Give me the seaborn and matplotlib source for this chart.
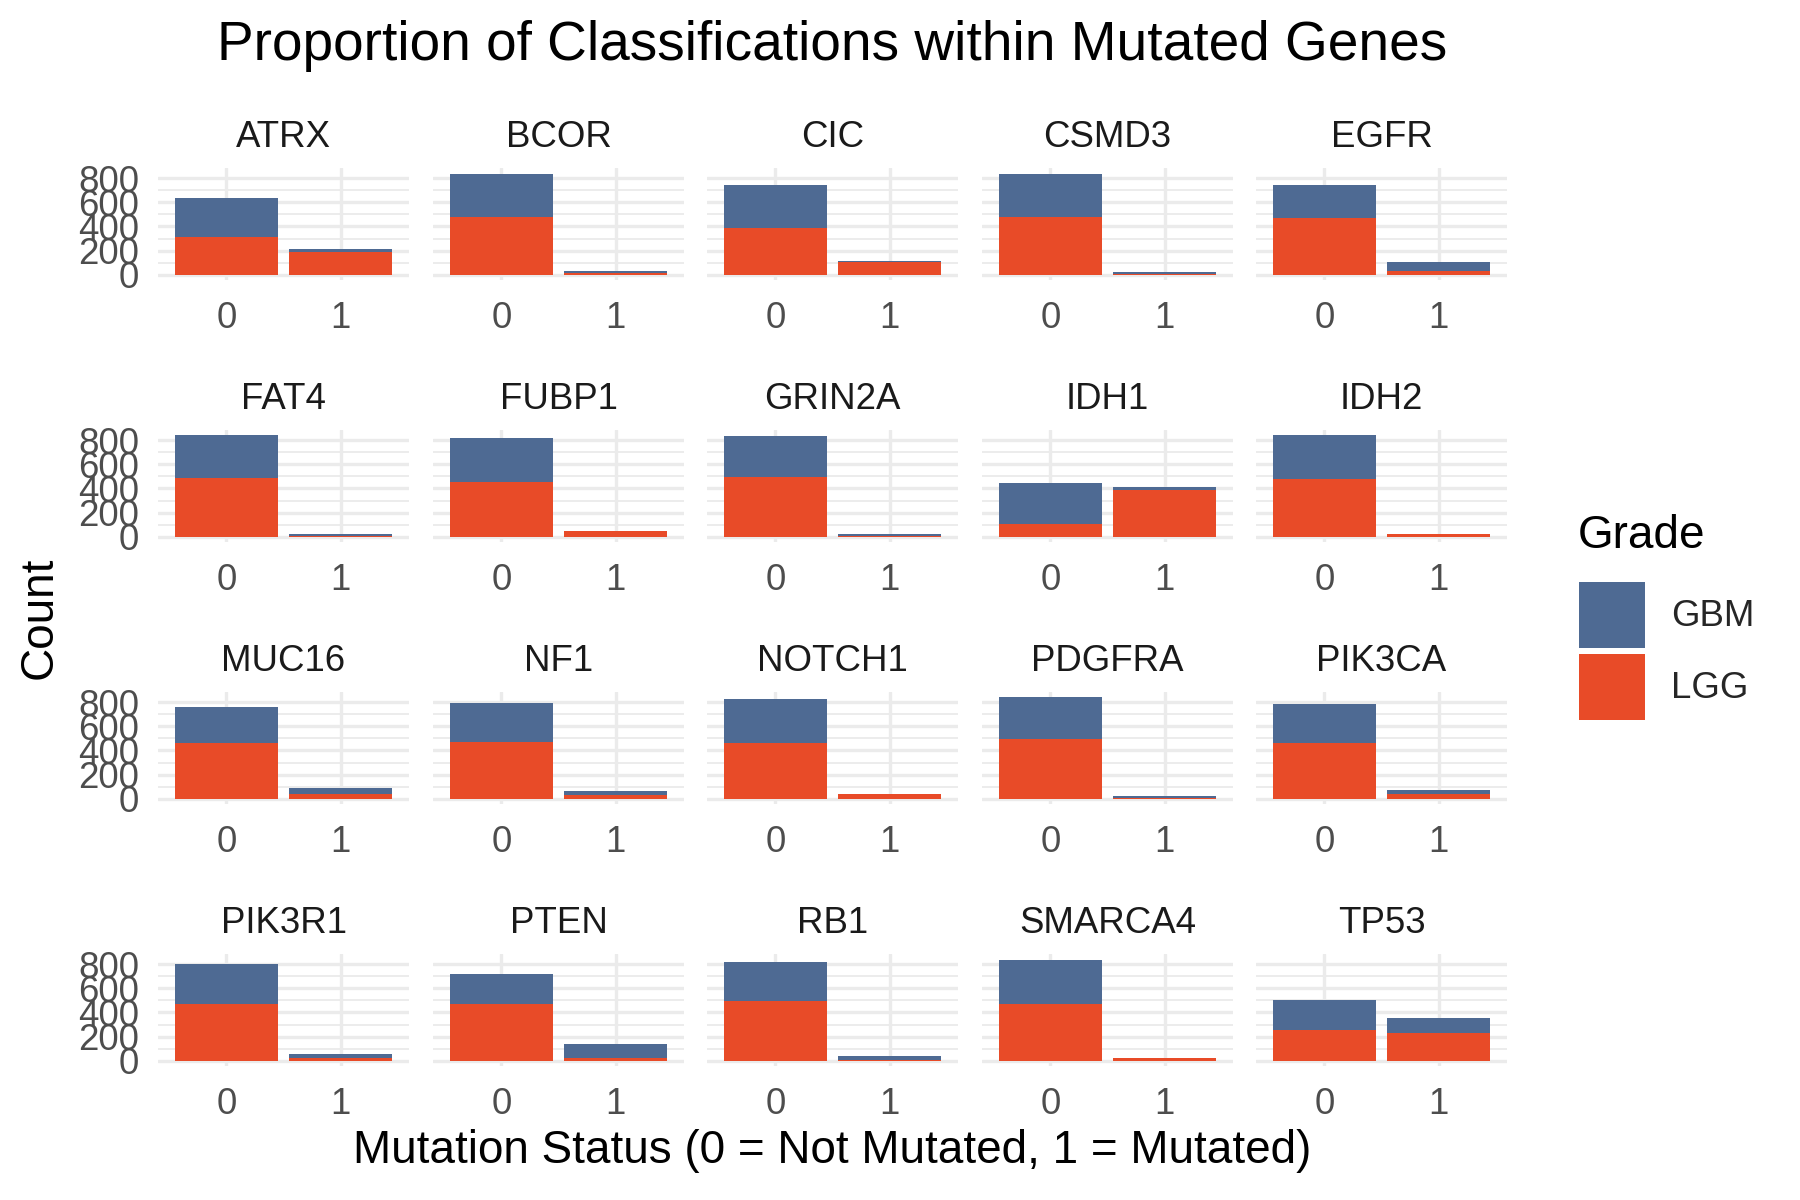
import pandas as pd
import matplotlib.pyplot as plt
import seaborn as sns
from matplotlib.patches import Patch

# values (counts per gene, mutation status 0 / 1)
genes = ['ATRX', 'BCOR', 'CIC', 'CSMD3', 'EGFR',
         'FAT4', 'FUBP1', 'GRIN2A', 'IDH1', 'IDH2',
         'MUC16', 'NF1', 'NOTCH1', 'PDGFRA', 'PIK3CA',
         'PIK3R1', 'PTEN', 'RB1', 'SMARCA4', 'TP53']
lgg_not = [315, 477, 385, 480, 466, 484, 451, 495, 103, 476,
           458, 466, 458, 493, 458, 474, 474, 491, 474, 253]
gbm_not = [321, 353, 356, 350, 275, 357, 365, 337, 340, 365,
           299, 324, 364, 345, 324, 324, 243, 323, 356, 254]
lgg_mut = [186, 13, 110, 11, 30, 11, 46, 11, 386, 24,
           40, 30, 40, 11, 40, 24, 24, 11, 22, 232]
gbm_mut = [30, 17, 2, 11, 80, 13, 1, 13, 25, 1,
           54, 32, 1, 11, 30, 33, 119, 27, 1, 121]

gbm_col = '#4E6A93'
lgg_col = '#E84B28'

rows = []
for i, g in enumerate(genes):
    rows.append({'Gene': g, 'Status': '0', 'LGG': lgg_not[i], 'GBM': gbm_not[i]})
    rows.append({'Gene': g, 'Status': '1', 'LGG': lgg_mut[i], 'GBM': gbm_mut[i]})
df = pd.DataFrame(rows)
df['Total'] = df['LGG'] + df['GBM']

sns.set_theme(style='white')
plt.rcParams['font.family'] = ['Liberation Sans', 'DejaVu Sans']

fig = plt.figure(figsize=(6, 4), dpi=300)
W, H = 1800, 1200
lefts = [158, 433, 707, 982, 1256]
tops = [168, 430, 692, 954]
pw, ph = 251, 112

for k, g in enumerate(genes):
    r, c = divmod(k, 5)
    ax = fig.add_axes([lefts[c] / W, 1 - (tops[r] + ph) / H, pw / W, ph / H])
    sub = df[df['Gene'] == g]
    # stacked: full height in GBM colour, LGG drawn over the bottom part
    sns.barplot(data=sub, x='Status', y='Total', order=['0', '1'], color=gbm_col,
                saturation=1, width=0.9, ax=ax, zorder=3)
    sns.barplot(data=sub, x='Status', y='LGG', order=['0', '1'], color=lgg_col,
                saturation=1, width=0.9, ax=ax, zorder=3)
    for p in ax.patches:
        p.set_linewidth(0)
    ax.set_xlim(-0.6, 1.6)
    ax.set_ylim(-42, 883)
    ax.set_yticks([0, 200, 400, 600, 800])
    ax.set_yticks([100, 300, 500, 700], minor=True)
    ax.grid(True, which='major', color='#EBEBEB', linewidth=0.8, zorder=0)
    ax.grid(True, which='minor', axis='y', color='#EBEBEB', linewidth=0.45, zorder=0)
    ax.set_axisbelow(True)
    for s in ax.spines.values():
        s.set_visible(False)
    ax.tick_params(which='both', length=0)
    ax.tick_params(axis='x', labelsize=8.8, labelcolor='#4D4D4D', pad=5)
    ax.tick_params(axis='y', labelsize=8.8, labelcolor='#4D4D4D', pad=4.5)
    if c != 0:
        ax.set_yticklabels([])
    ax.set_xlabel('')
    ax.set_ylabel('')
    ax.set_title(g, fontsize=8.8, color='#1A1A1A', pad=5)

fig.text(832 / W, 1 - 46 / H, 'Proportion of Classifications within Mutated Genes',
         ha='center', va='center', fontsize=13.2, color='black')
fig.text(832 / W, 1 - 1151 / H, 'Mutation Status (0 = Not Mutated, 1 = Mutated)',
         ha='center', va='center', fontsize=11, color='black')
fig.text(40 / W, 1 - 618 / H, 'Count', rotation=90,
         ha='center', va='center', fontsize=11, color='black')

# legend
fig.text(1578 / W, 1 - 536 / H, 'Grade', ha='left', va='center', fontsize=11, color='black')
handles = [Patch(facecolor=gbm_col, linewidth=0), Patch(facecolor=lgg_col, linewidth=0)]
fig.legend(handles, ['GBM', 'LGG'], loc='upper left',
           bbox_to_anchor=(1579 / W, 1 - 582 / H), frameon=False,
           handlelength=1.8, handleheight=2.39, fontsize=8.8,
           labelspacing=0.164, handletextpad=0.7, borderpad=0, borderaxespad=0)

fig.savefig('out.png', dpi=300)
